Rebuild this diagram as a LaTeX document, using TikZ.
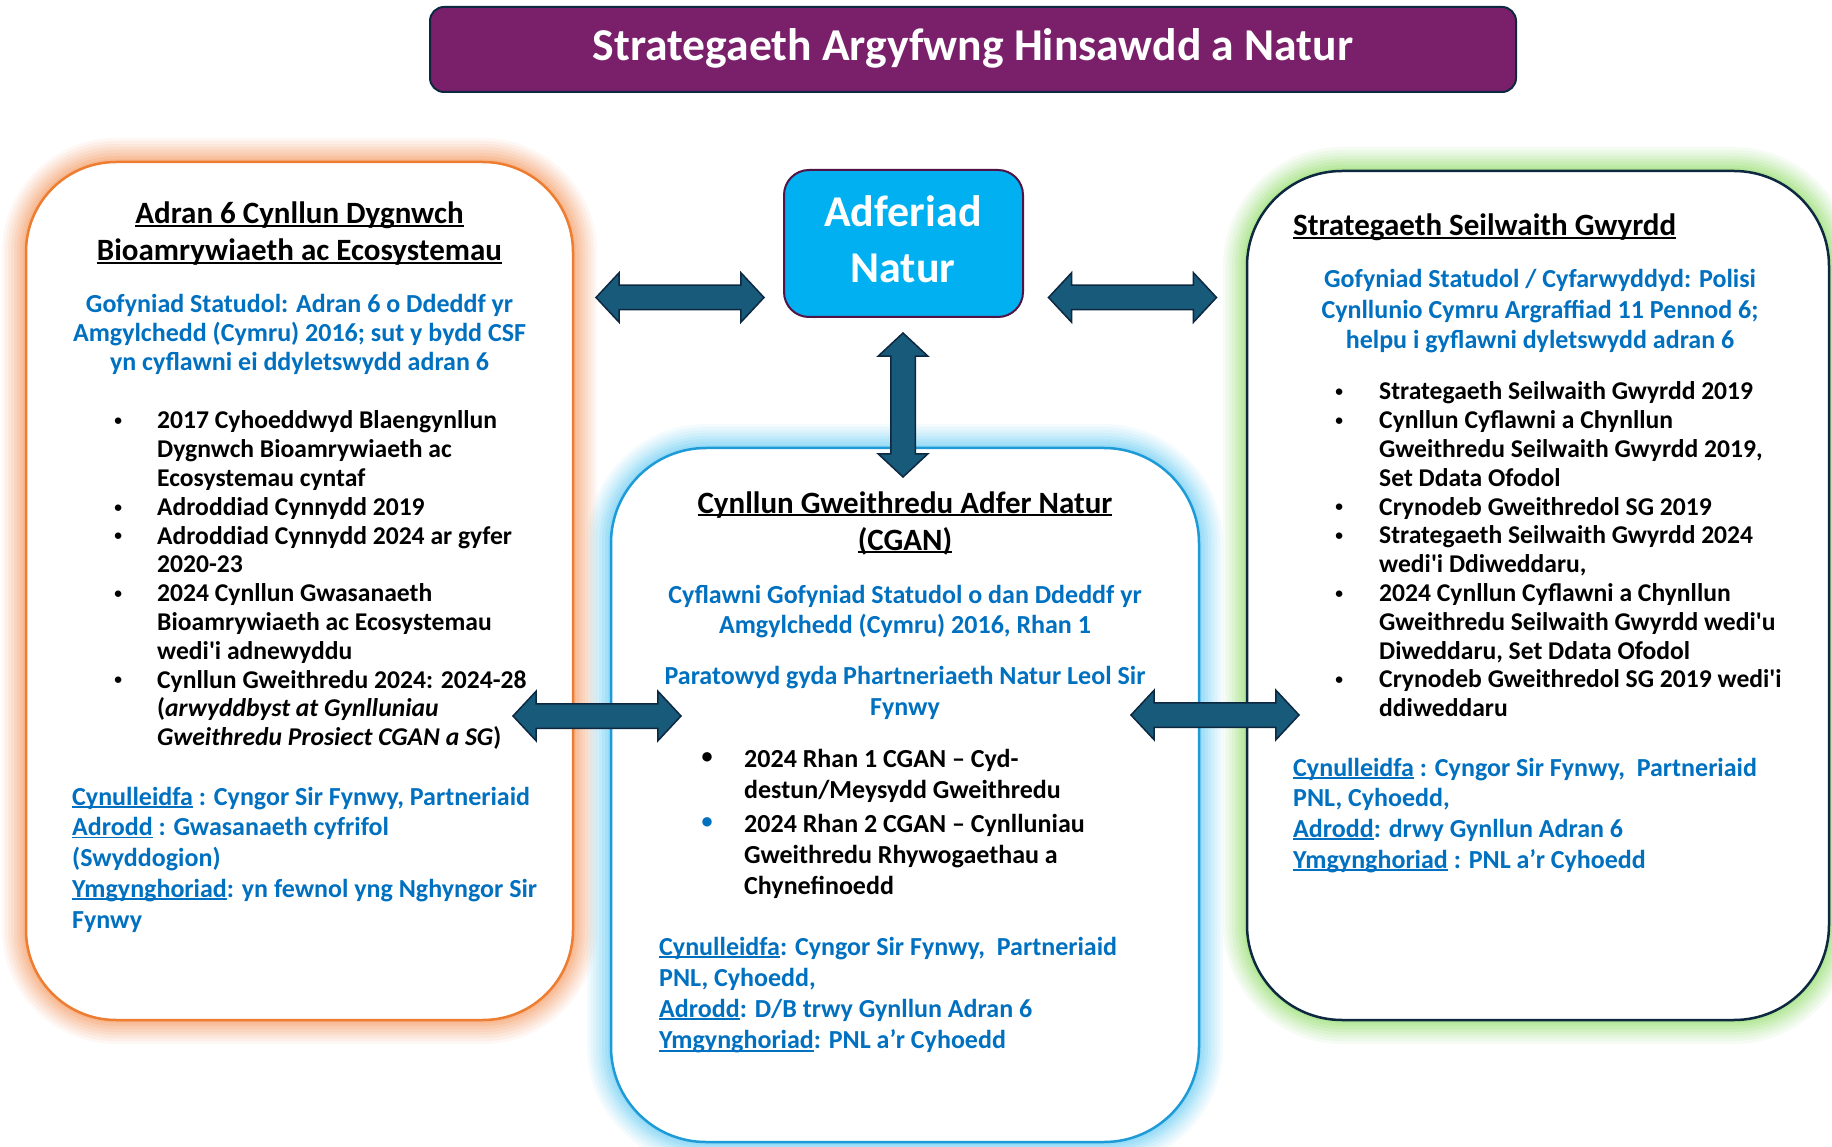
\documentclass[tikz,border=0pt]{standalone}
\usepackage{fontspec}
\setmainfont{Carlito}[Ligatures=TeXOff]
\usetikzlibrary{shapes.arrows}
\definecolor{ttlpurple}{RGB}{122,32,106}
\definecolor{navy}{RGB}{14,40,65}
\definecolor{cyanfill}{RGB}{0,176,240}
\definecolor{adfborder}{RGB}{80,20,70}
\definecolor{arrowc}{RGB}{24,90,122}
\definecolor{blu}{RGB}{0,112,192}
\definecolor{orstroke}{RGB}{237,125,49}
\definecolor{orglow}{RGB}{248,150,90}
\definecolor{grglow}{RGB}{140,220,100}
\definecolor{blstroke}{RGB}{30,155,215}
\definecolor{blglow}{RGB}{100,205,245}
\newlength\bulw
\newcommand\bulsc{0.6}
\newcommand\bu{\makebox[\bulw]{\raisebox{0.13em}{\scalebox{\bulsc}{\textbullet}}}}
\newcommand\myul[1]{\leavevmode\setbox0\hbox{#1}\rlap{\rule[-0.1em]{\wd0}{0.07em}}\box0}
\tikzset{
  x=1pt, y=-1pt,
  glow/.style={
    preaction={draw=#1,line width=48,draw opacity=0.07},
    preaction={draw=#1,line width=42,draw opacity=0.08},
    preaction={draw=#1,line width=36,draw opacity=0.09},
    preaction={draw=#1,line width=30,draw opacity=0.1},
    preaction={draw=#1,line width=24,draw opacity=0.12},
    preaction={draw=#1,line width=18,draw opacity=0.14},
    preaction={draw=#1,line width=12,draw opacity=0.17},
    preaction={draw=#1,line width=6,draw opacity=0.22}},
  panel/.style={fill=white, inner sep=0, line width=2.5},
  txt/.style={inner sep=0, font=\bfseries\fontsize{26}{28.8}\selectfont},
  blk/.style={double arrow, draw=navy, fill=arrowc, line width=1.5, inner sep=0,
    text height=11.5pt, text depth=11.5pt,
    minimum height=168, minimum width=48, double arrow head extend=12.5,
    double arrow tip angle=94}
}
\begin{document}
\begin{tikzpicture}
\fill[white] (0,0) rectangle (1832,1147);
\useasboundingbox (0,0) rectangle (1832,1147);

% title
\node[fill=ttlpurple, draw=navy, line width=2, rounded corners=14, inner sep=0,
  minimum width=1086, minimum height=85] (title) at (973,49.5) {};
\node[inner sep=0, anchor=base, text=white, font=\bfseries\fontsize{45.6}{50}\selectfont]
  (titletxt) at (973,61) {Strategaeth Argyfwng Hinsawdd a Natur};

% panels
\node[panel, glow=orglow, draw=orstroke, rounded corners=90,
  minimum width=547, minimum height=858] (left) at (299.5,591) {};
\node[panel, glow=grglow, draw=navy, rounded corners=95,
  minimum width=582, minimum height=849] (right) at (1538,595.5) {};
\node[panel, glow=blglow, draw=blstroke, rounded corners=95,
  minimum width=588, minimum height=694] (mid) at (905,795) {};

% Adferiad Natur box
\node[fill=cyanfill, draw=adfborder, line width=2, rounded corners=25, inner sep=0,
  minimum width=239, minimum height=147] (adf) at (903.5,243.5) {};
\node[inner sep=0, anchor=base, text=white, font=\bfseries\fontsize{44}{56}\selectfont]
  (adftxt) at (903,227) {\begin{tabular}[t]{@{}c@{}}Adferiad\\ Natur\end{tabular}};

% ---------- left panel text
\node[txt, anchor=base, font=\bfseries\fontsize{31}{37}\selectfont] (lhead) at (299.5,224)
  {\begin{tabular}[t]{@{}c@{}}\myul{Adran 6 Cynllun Dygnwch}\\ \myul{Bioamrywiaeth ac Ecosystemau}\end{tabular}};
\node[txt, anchor=base, text=blu, font=\bfseries\fontsize{26}{29}\selectfont] (lreq) at (299.5,313)
  {\begin{tabular}[t]{@{}c@{}}Gofyniad Statudol: Adran 6 o Ddeddf yr\\ Amgylchedd (Cymru) 2016; sut y bydd CSF\\ yn cyflawni ei ddyletswydd adran 6\end{tabular}};
\node[txt, anchor=base west, font=\bfseries\fontsize{25.6}{28.8}\selectfont] (llist) at (79,429)
  {\setlength\bulw{78pt}\begin{tabular}[t]{@{}l@{}l@{}}
  \bu & 2017 Cyhoeddwyd Blaengynllun\\
      & Dygnwch Bioamrywiaeth ac\\
      & Ecosystemau cyntaf\\
  \bu & Adroddiad Cynnydd 2019\\
  \bu & Adroddiad Cynnydd 2024 ar gyfer\\
      & 2020-23\\
  \bu & 2024 Cynllun Gwasanaeth\\
      & Bioamrywiaeth ac Ecosystemau\\
      & wedi'i adnewyddu\\
  \bu & Cynllun Gweithredu 2024: 2024-28\\
      & (\textit{arwyddbyst at Gynlluniau}\\
      & \textit{Gweithredu Prosiect CGAN a SG})
  \end{tabular}};
\node[txt, anchor=base west, text=blu, font=\bfseries\fontsize{26}{30.8}\selectfont] (lfoot) at (72,805)
  {\begin{tabular}[t]{@{}l@{}}
  \myul{Cynulleidfa}\ : Cyngor Sir Fynwy, Partneriaid\\
  \myul{Adrodd}\ : Gwasanaeth cyfrifol\\
  (Swyddogion)\\
  \myul{Ymgynghoriad}: yn fewnol yng Nghyngor Sir\\
  Fynwy
  \end{tabular}};

% ---------- middle panel text
\node[txt, anchor=base, font=\bfseries\fontsize{31}{37}\selectfont] (mhead) at (905,513)
  {\begin{tabular}[t]{@{}c@{}}\myul{Cynllun Gweithredu Adfer Natur}\\ \myul{(CGAN)}\end{tabular}};
\node[txt, anchor=base, text=blu, font=\bfseries\fontsize{26}{30}\selectfont] (mreq) at (905,603)
  {\begin{tabular}[t]{@{}c@{}}Cyflawni Gofyniad Statudol o dan Ddeddf yr\\ Amgylchedd (Cymru) 2016, Rhan 1\end{tabular}};
\node[txt, anchor=base, text=blu, font=\bfseries\fontsize{26}{31}\selectfont] (mprep) at (905,684)
  {\begin{tabular}[t]{@{}c@{}}Paratowyd gyda Phartneriaeth Natur Leol Sir\\ Fynwy\end{tabular}};
\node[txt, anchor=base west, font=\bfseries\fontsize{26}{31}\selectfont] (mlist) at (670,767)
  {\setlength\bulw{74pt}\renewcommand\bulsc{0.85}\begin{tabular}[t]{@{}l@{}l@{}}
  \bu & 2024 Rhan 1 CGAN – Cyd-\\
      & destun/Meysydd Gweithredu\\[3pt]
  {\color{blu}\bu} & 2024 Rhan 2 CGAN – Cynlluniau\\
      & Gweithredu Rhywogaethau a\\
      & Chynefinoedd
  \end{tabular}};
\node[txt, anchor=base west, text=blu, font=\bfseries\fontsize{26}{31.3}\selectfont] (mfoot) at (659,955)
  {\begin{tabular}[t]{@{}l@{}}
  \myul{Cynulleidfa}: Cyngor Sir Fynwy,\ \ Partneriaid\\
  PNL, Cyhoedd,\\
  \myul{Adrodd}: D/B trwy Gynllun Adran 6\\
  \myul{Ymgynghoriad}: PNL a’r Cyhoedd
  \end{tabular}};

% ---------- right panel text
\node[txt, anchor=base west, font=\bfseries\fontsize{31}{37}\selectfont] (rhead) at (1293,236)
  {\myul{Strategaeth Seilwaith Gwyrdd}};
\node[txt, anchor=base, text=blu, font=\bfseries\fontsize{26}{30.5}\selectfont] (rreq) at (1540,288)
  {\begin{tabular}[t]{@{}c@{}}Gofyniad Statudol / Cyfarwyddyd: Polisi\\ Cynllunio Cymru Argraffiad 11 Pennod 6;\\ helpu i gyflawni dyletswydd adran 6\end{tabular}};
\node[txt, anchor=base west, font=\bfseries\fontsize{25.6}{28.8}\selectfont] (rlist) at (1299,400)
  {\setlength\bulw{80pt}\begin{tabular}[t]{@{}l@{}l@{}}
  \bu & Strategaeth Seilwaith Gwyrdd 2019\\
  \bu & Cynllun Cyflawni a Chynllun\\
      & Gweithredu Seilwaith Gwyrdd 2019,\\
      & Set Ddata Ofodol\\
  \bu & Crynodeb Gweithredol SG 2019\\
  \bu & Strategaeth Seilwaith Gwyrdd 2024\\
      & wedi'i Ddiweddaru,\\
  \bu & 2024 Cynllun Cyflawni a Chynllun\\
      & Gweithredu Seilwaith Gwyrdd wedi'u\\
      & Diweddaru, Set Ddata Ofodol\\
  \bu & Crynodeb Gweithredol SG 2019 wedi'i\\
      & ddiweddaru
  \end{tabular}};
\node[txt, anchor=base west, text=blu, font=\bfseries\fontsize{26}{30.7}\selectfont] (rfoot) at (1293,776)
  {\begin{tabular}[t]{@{}l@{}}
  \myul{Cynulleidfa}\ : Cyngor Sir Fynwy,\ \ Partneriaid\\
  PNL, Cyhoedd,\\
  \myul{Adrodd}: drwy Gynllun Adran 6\\
  \myul{Ymgynghoriad}\ : PNL a’r Cyhoedd
  \end{tabular}};

% ---------- block arrows
\node[blk] (arrLT) at (680,297.5) {};
\node[blk] (arrRT) at (1132.5,297.5) {};
\node[blk, minimum height=144, rotate=90] (arrV) at (903,405) {};
\node[blk] (arrLM) at (597,716) {};
\node[blk] (arrRM) at (1215,715) {};
\end{tikzpicture}
\end{document}
